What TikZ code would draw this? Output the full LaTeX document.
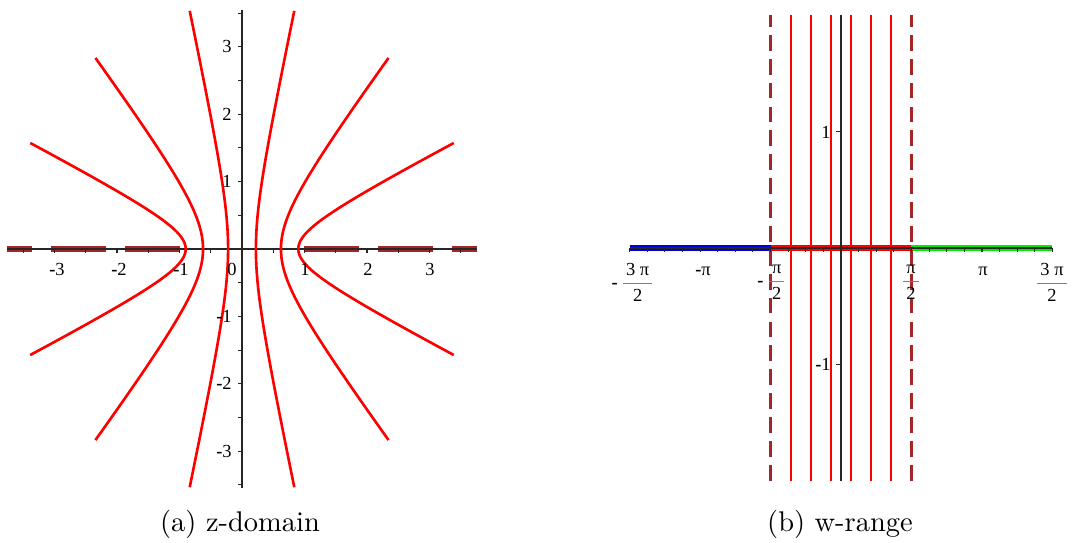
\documentclass[tikz,border=0pt]{standalone}
\usepackage{fontspec}
\usepackage{amsmath}
\usepackage{xcolor}
\newfontfamily\maplefont{Liberation Serif}
\newfontfamily\capfont[Extension=.otf]{lmroman10-regular}
\definecolor{darkbrown}{RGB}{165,38,38}
\definecolor{wgreen}{RGB}{0,235,0}
\definecolor{wblue}{RGB}{0,0,220}
\newcommand{\mneg}{\mbox{\bfseries -}}
\newcommand{\mfrac}[2]{\textcolor{gray}{\genfrac{}{}{0.6pt}{0}{\textcolor{black}{\mbox{\,#1\,}}}{\textcolor{black}{\mbox{#2}}}}}

\begin{document}
\begin{tikzpicture}[
        x=0.02cm, y=0.02cm,
        curve/.style={red, line width=1.5pt},
        ray/.style={darkbrown, line width=3.2pt, dash pattern=on 31pt off 11pt},
        edgeline/.style={darkbrown, line width=1.2pt, dash pattern=on 9pt off 4.6pt},
        vline/.style={red, line width=1.3pt},
        segment/.style={line width=3.2pt},
        axis/.style={black!85, line width=0.6pt},
        ticklabel/.style={font=\maplefont\fontsize{10.5}{12}\selectfont, inner sep=0pt},
        caption/.style={font=\capfont\fontsize{16.2}{19}\selectfont, anchor=base}
    ]
        \useasboundingbox (0,0) rectangle (1072,542);

        % z-domain
        \begin{scope}[shift={(242,293)}, x=1.25cm, y=1.348cm]
            % rays on the real axis
            \draw[ray] (1,0) -- (3.762,0);
            \draw[ray] (-1,0) -- (-3.762,0);
            % axes
            \draw[axis] (-3.76,0) -- (3.76,0);
            \draw[axis] (0,-3.54) -- (0,3.54);
            \foreach \t in {-3.5,-3,...,3.5} \draw[axis] (\t,0) -- ++(0pt,-2.3pt);
            \foreach \t in {-3.5,-3,...,3.5} \draw[axis] (0,\t) -- ++(-2.3pt,0pt);
            % hyperbolas
            \foreach \c in {-5,-3,-1,1,3,5}
                \draw[curve] plot[domain=-2:2, samples=80, variable=\v]
                    ({sin(\c*180/14)*cosh(\v)}, {cos(\c*180/14)*sinh(\v)});
        \end{scope}

        % w-range
        \begin{scope}[shift={(841,294)}, x=0.8976cm, y=2.328cm]
            % segments on the real axis
            \draw[segment, wblue] ({-3*pi/2},0) -- ({-pi/2},0);
            \draw[segment, red] ({-pi/2},0) -- ({pi/2},0);
            \draw[segment, wgreen] ({pi/2},0) -- ({3*pi/2},0);
            % vertical lines
            \foreach \k in {1,...,6}
                \draw[vline] ({-pi/2+\k*pi/7},-2) -- ({-pi/2+\k*pi/7},2);
            \draw[edgeline] ({-pi/2},-2) -- ({-pi/2},2);
            \draw[edgeline] ({pi/2},-2) -- ({pi/2},2);
            % axes
            \draw[axis] ({-3*pi/2},0) -- ({3*pi/2},0);
            \draw[axis] (0,-2) -- (0,2);
            \foreach \k in {-12,...,12} \draw[axis] ({\k*pi/8},0) -- ++(0pt,-2.3pt);
            \draw[axis] (0,1) -- ++(-3pt,0pt);
            \draw[axis] (0,-1) -- ++(-3pt,0pt);
        \end{scope}

        % tick labels z-domain
        \node[ticklabel, anchor=base] (zxm3) at (57,267) {\mneg3};
        \node[ticklabel, anchor=base] (zxm2) at (119,267) {\mneg2};
        \node[ticklabel, anchor=base] (zxm1) at (181,267) {\mneg1};
        \node[ticklabel, anchor=base] (zx0) at (232,267) {0};
        \node[ticklabel, anchor=base] (zx1) at (305,267) {1};
        \node[ticklabel, anchor=base] (zx2) at (368,267) {2};
        \node[ticklabel, anchor=base] (zx3) at (430,267) {3};
        \node[ticklabel, anchor=east] (zy3) at (232,495.3) {3};
        \node[ticklabel, anchor=east] (zy2) at (232,428) {2};
        \node[ticklabel, anchor=east] (zy1) at (232,360.3) {1};
        \node[ticklabel, anchor=east] (zym1) at (232,226) {\mneg1};
        \node[ticklabel, anchor=east] (zym2) at (232,158.5) {\mneg2};
        \node[ticklabel, anchor=east] (zym3) at (232,91) {\mneg3};

        % tick labels w-range
        \node[ticklabel] (wxm3) at (633,260) {$\mneg\,\mfrac{3 π}{2}$};
        \node[ticklabel] (wxmpi) at (703,270.3) {\mneg π};
        \node[ticklabel] (wxmhalf) at (772,260) {$\mneg\,\mfrac{π}{2}$};
        \node[ticklabel] (wxhalf) at (911,260) {$\mfrac{π}{2}$};
        \node[ticklabel] (wxpi) at (983,270.3) {π};
        \node[ticklabel] (wx3) at (1052,260) {$\mfrac{3 π}{2}$};
        \node[ticklabel, anchor=east] (wy1) at (831,410) {1};
        \node[ticklabel, anchor=east] (wym1) at (831,177.3) {\mneg1};

        % captions
        \node[caption] (capa) at (240,11) {(a) z-domain};
        \node[caption] (capb) at (840,11) {(b) w-range};
    \end{tikzpicture}
\end{document}
